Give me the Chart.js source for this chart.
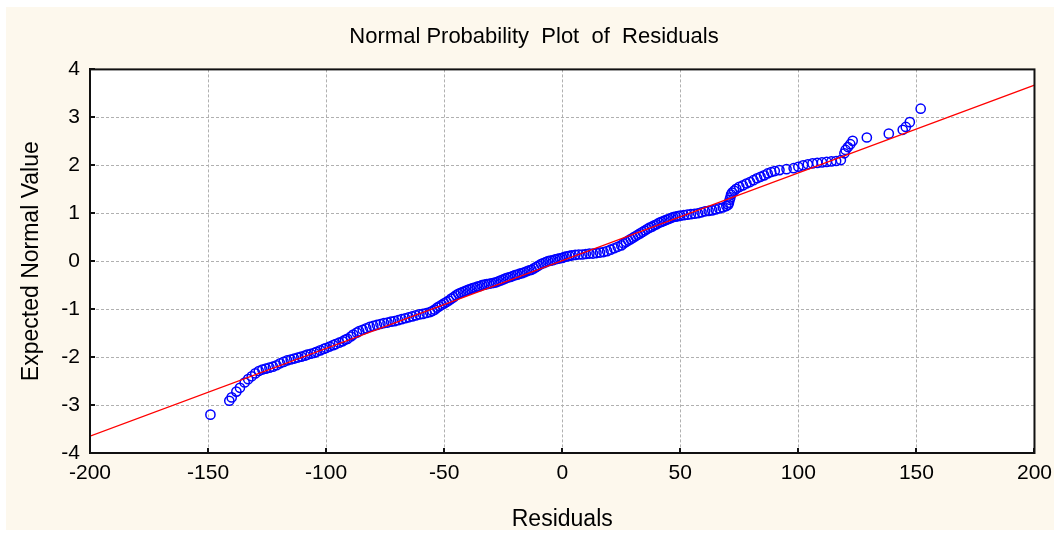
<!DOCTYPE html>
<html>
<head>
<meta charset="utf-8">
<title>Normal Probability Plot of Residuals</title>
<script src="https://cdn.jsdelivr.net/npm/chart.js@4.4.1/dist/chart.umd.min.js"></script>
<style>
  html, body { margin: 0; padding: 0; background: #ffffff; }
  canvas { display: block; }
</style>
</head>
<body>
<canvas id="chart" width="1060" height="533"></canvas>
<script>
// Ordered residuals paired with their expected normal quantiles
const residualPoints = [
  [-149, -3.20], [-141, -2.91], [-140, -2.84], [-138, -2.72], [-136.5, -2.64],
  [-134.5, -2.53], [-133, -2.46], [-131.5, -2.40], [-130, -2.34], [-128.5, -2.29],
  [-127, -2.26], [-125.5, -2.24], [-124, -2.22], [-122.5, -2.20], [-121, -2.17],
  [-119.5, -2.13], [-118, -2.10], [-116.5, -2.07], [-115, -2.05], [-113.5, -2.03],
  [-112, -2.01], [-110.5, -1.99],
  [-109, -1.97], [-108, -1.95], [-106.5, -1.93], [-105, -1.91], [-104, -1.89],
  [-102.5, -1.86], [-101, -1.83], [-100, -1.81], [-98.5, -1.78], [-97, -1.75],
  [-96, -1.73], [-94.5, -1.70], [-93, -1.67], [-92, -1.64], [-91, -1.62],
  [-89.5, -1.57], [-88.5, -1.53], [-87, -1.49], [-86, -1.46], [-84.5, -1.43],
  [-83, -1.40], [-81.5, -1.37], [-80, -1.35], [-78.5, -1.33], [-77, -1.31],
  [-75.5, -1.29], [-74, -1.28], [-72.5, -1.26], [-71, -1.25], [-69.5, -1.23],
  [-68, -1.21], [-66.5, -1.19],
  [-65, -1.17], [-63.5, -1.15], [-62, -1.13], [-60.5, -1.11], [-59, -1.10],
  [-57.5, -1.08], [-56, -1.06], [-55, -1.04], [-54, -1.01], [-53, -0.97],
  [-52, -0.94], [-51, -0.91], [-50, -0.88], [-49, -0.85], [-48, -0.82],
  [-47, -0.78], [-46, -0.75], [-45, -0.71], [-44, -0.68], [-43, -0.66],
  [-42, -0.64], [-41, -0.62], [-40, -0.60],
  [-39, -0.58], [-38, -0.56], [-37, -0.55], [-36, -0.53], [-35, -0.52],
  [-34, -0.50], [-33, -0.49], [-32, -0.48], [-31, -0.47], [-30, -0.46],
  [-29, -0.45], [-28, -0.44], [-27, -0.42], [-26, -0.40], [-25, -0.38],
  [-24, -0.36], [-23, -0.34], [-22, -0.33], [-21, -0.31], [-20, -0.29],
  [-19, -0.28], [-18, -0.26], [-17, -0.25], [-16, -0.23], [-15, -0.21],
  [-14, -0.19], [-13, -0.18], [-12, -0.15], [-11, -0.12], [-10, -0.09],
  [-9, -0.06], [-8, -0.04],
  [-7, -0.02], [-6, 0.00], [-5, 0.01], [-4, 0.02], [-3, 0.04],
  [-2, 0.05], [-1, 0.06], [0, 0.07], [1, 0.09], [2, 0.10],
  [3, 0.11], [4, 0.12], [5.5, 0.13], [7, 0.14], [8.5, 0.14],
  [10, 0.15], [11.5, 0.16], [13, 0.16], [14.5, 0.17], [16, 0.18],
  [17.5, 0.19], [19, 0.21], [20.5, 0.24], [22, 0.27], [23.5, 0.30],
  [25, 0.33],
  [26, 0.37], [27, 0.40], [28, 0.43], [29, 0.46], [30, 0.49],
  [31, 0.52], [32, 0.55], [33, 0.58], [34, 0.61], [35, 0.64],
  [36, 0.67], [37, 0.70], [38, 0.72], [39, 0.75], [40, 0.77],
  [41, 0.80], [42, 0.82], [43, 0.84], [44, 0.86], [45, 0.88],
  [46, 0.90], [47, 0.92], [48, 0.93], [49, 0.94], [50, 0.95],
  [51.5, 0.96], [53, 0.97], [54.5, 0.98], [56, 0.99], [57.5, 1.00],
  [59, 1.02], [60.5, 1.04], [62, 1.05], [63.5, 1.06], [65, 1.08],
  [66.5, 1.10], [68, 1.12], [69.5, 1.15], [70.3, 1.18],
  [70.6, 1.22], [70.9, 1.28], [71.2, 1.33], [71.5, 1.39], [72, 1.43],
  [72.8, 1.47], [73.7, 1.51], [75, 1.55], [76.5, 1.58], [78, 1.62],
  [79.5, 1.65], [81, 1.69], [82.5, 1.73], [84, 1.76], [85.5, 1.79],
  [87, 1.83], [88.5, 1.86], [90, 1.88], [92, 1.90], [95, 1.92],
  [98, 1.94],
  [100, 1.97], [102, 2.00], [104, 2.02], [106, 2.04], [108, 2.05],
  [110, 2.06], [112, 2.07], [114, 2.08], [116, 2.09], [118, 2.11],
  [119.5, 2.25], [120, 2.32], [121, 2.38], [122, 2.44], [123, 2.51],
  [129, 2.58], [138.3, 2.66], [144.2, 2.74], [145.5, 2.80], [147.2, 2.90],
  [151.8, 3.18]
];

// Fitted normal reference line (end points at the axis limits)
const fitResiduals = [-200, 200];
const fitExpected = [-3.65, 3.67];

// Axis ranges and tick steps
const xRange = [-200, 200];
const xStep = 50;
const yRange = [-4, 4];
const yStep = 1;

const FONT = "'Liberation Sans', Arial, sans-serif";

const pageBackground = {
  id: 'pageBackground',
  beforeDraw(chart) {
    const { ctx, chartArea: a } = chart;
    ctx.save();
    ctx.fillStyle = '#fdf8ed';
    ctx.fillRect(6, 7, chart.width - 12, chart.height - 10);
    ctx.fillStyle = '#ffffff';
    ctx.fillRect(a.left, a.top, a.right - a.left, a.bottom - a.top);
    ctx.restore();
  }
};

const frameAndTicks = {
  id: 'frameAndTicks',
  afterDraw(chart) {
    const { ctx, chartArea: a, scales } = chart;
    ctx.save();
    ctx.strokeStyle = '#111111';
    ctx.lineWidth = 2;
    ctx.strokeRect(a.left, a.top, a.right - a.left, a.bottom - a.top);
    ctx.beginPath();
    scales.y.ticks.forEach(t => {
      const py = Math.round(scales.y.getPixelForValue(t.value));
      ctx.moveTo(a.left, py);
      ctx.lineTo(a.left + 5, py);
    });
    scales.x.ticks.forEach(t => {
      const px = Math.round(scales.x.getPixelForValue(t.value));
      ctx.moveTo(px, a.bottom);
      ctx.lineTo(px, a.bottom - 5);
    });
    ctx.stroke();
    ctx.restore();
  }
};

new Chart(document.getElementById('chart'), {
  type: 'scatter',
  data: {
    datasets: [
      {
        type: 'line',
        data: fitResiduals.map((x, i) => ({ x, y: fitExpected[i] })),
        borderColor: '#ff0000',
        borderWidth: 1.3,
        pointRadius: 0,
        fill: false,
        order: 0
      },
      {
        data: residualPoints.map(([x, y]) => ({ x, y })),
        backgroundColor: 'rgba(0,0,0,0)',
        borderColor: '#0000ff',
        borderWidth: 1.5,
        pointRadius: 4.6,
        pointStyle: 'circle',
        order: 1
      }
    ]
  },
  options: {
    responsive: false,
    animation: false,
    layout: { padding: { left: 31, right: 23, top: 0, bottom: 0 } },
    plugins: {
      legend: { display: false },
      tooltip: { enabled: false },
      title: {
        display: true,
        text: 'Normal Probability  Plot  of  Residuals',
        color: '#000000',
        font: { family: FONT, size: 22, weight: 'normal' },
        padding: { top: 24, bottom: 19 }
      }
    },
    scales: {
      x: {
        type: 'linear',
        min: xRange[0],
        max: xRange[1],
        ticks: { stepSize: xStep, color: '#000000', font: { family: FONT, size: 21 }, padding: 8, maxRotation: 0 },
        grid: { color: '#b0b0b0', lineWidth: 1, drawTicks: false },
        border: { display: true, color: '#111111', width: 2, dash: [3, 2] },
        title: {
          display: true,
          text: 'Residuals',
          color: '#000000',
          font: { family: FONT, size: 23 },
          padding: { top: 0, bottom: 0 }
        },
        afterFit(scale) { scale.height = 80; }
      },
      y: {
        type: 'linear',
        min: yRange[0],
        max: yRange[1],
        ticks: { stepSize: yStep, color: '#000000', font: { family: FONT, size: 21 }, padding: 10 },
        grid: { color: '#b0b0b0', lineWidth: 1, drawTicks: false },
        border: { display: true, color: '#111111', width: 2, dash: [3, 2] },
        title: {
          display: true,
          text: 'Expected Normal Value',
          color: '#000000',
          font: { family: FONT, size: 23 },
          padding: { top: -13, bottom: 0 }
        },
        afterFit(scale) { scale.width = 59; }
      }
    }
  },
  plugins: [pageBackground, frameAndTicks]
});
</script>
</body>
</html>
